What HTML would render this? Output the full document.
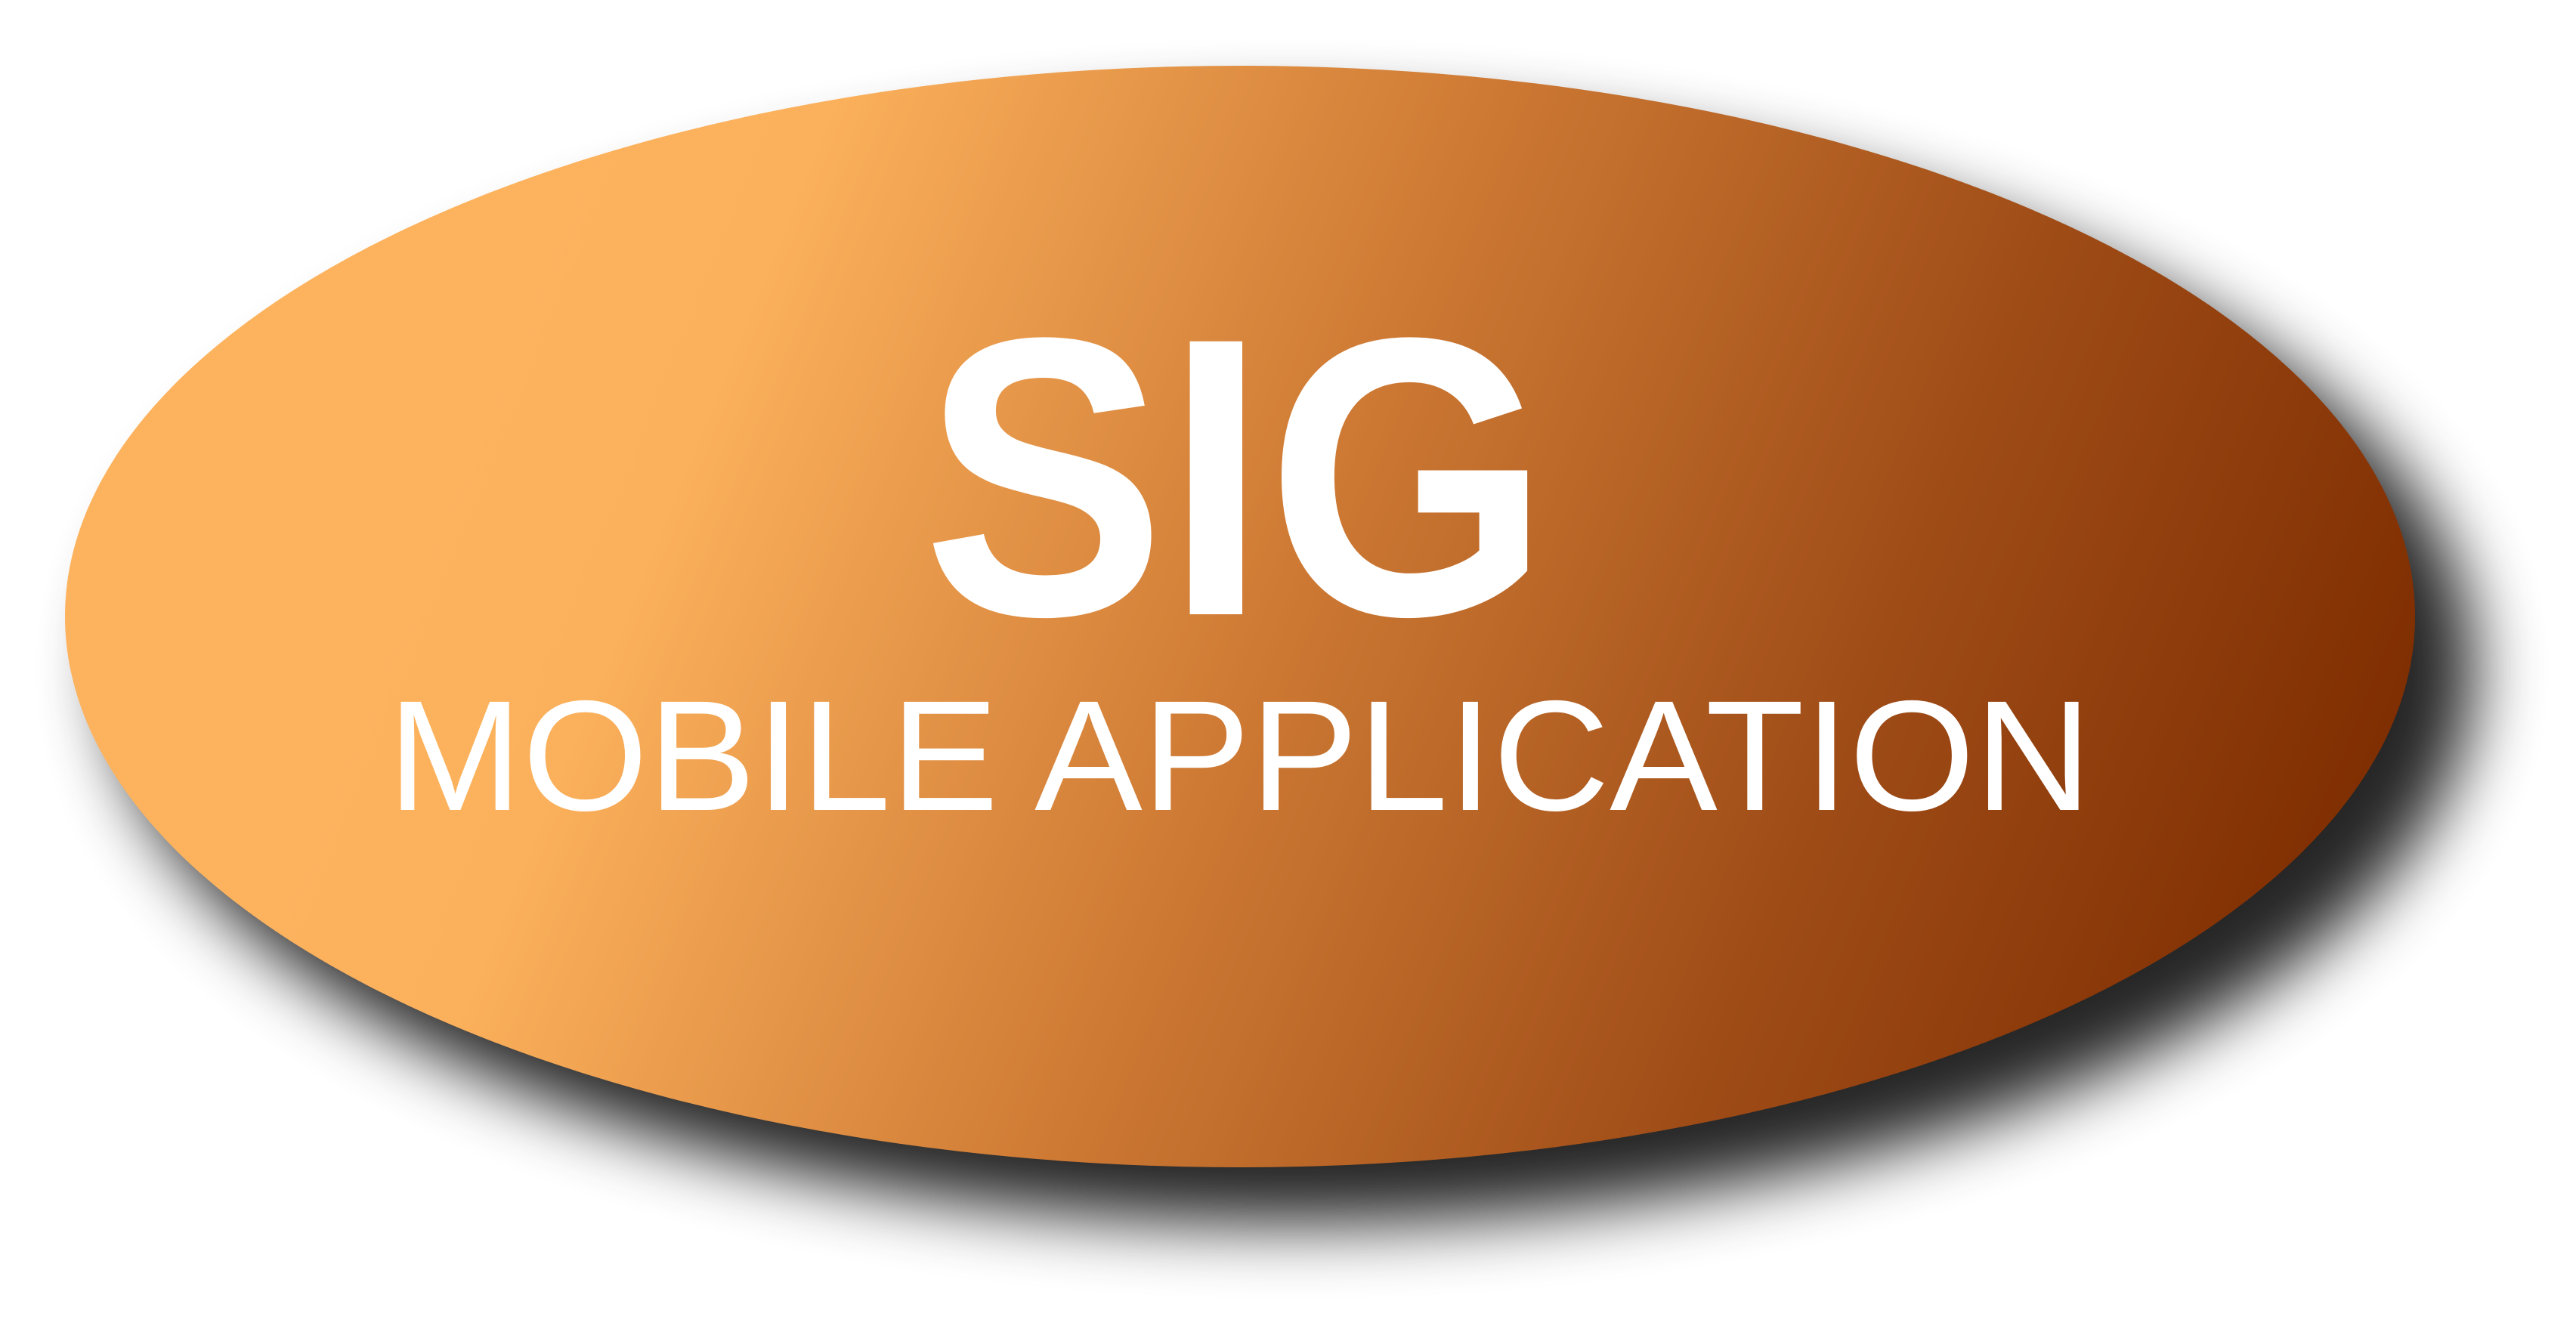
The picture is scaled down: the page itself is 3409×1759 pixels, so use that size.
<!DOCTYPE html>
<html>
<head>
<meta charset="utf-8">
<style>
  html, body { margin: 0; padding: 0; background: #ffffff; }
  svg { display: block; }
</style>
</head>
<body>
<svg width="3409" height="1759" viewBox="0 0 3409 1759" xmlns="http://www.w3.org/2000/svg">
  <defs>
    <filter id="blur" x="-20%" y="-20%" width="140%" height="140%">
      <feGaussianBlur stdDeviation="45"/>
    </filter>
    <linearGradient id="grad" gradientUnits="userSpaceOnUse" x1="650" y1="420" x2="3050" y2="1400">
      <stop offset="0" stop-color="#fdb35e"/>
      <stop offset="0.12" stop-color="#fbb05b"/>
      <stop offset="0.42" stop-color="#cf7b35"/>
      <stop offset="0.72" stop-color="#9f4c17"/>
      <stop offset="1" stop-color="#7d2c00"/>
    </linearGradient>
  </defs>
  <ellipse cx="1710" cy="885" rx="1565" ry="735" fill="#000" opacity="0.85" filter="url(#blur)"/>
  <ellipse cx="1641" cy="816" rx="1555" ry="729" fill="url(#grad)"/>
  <text x="1636" y="813" text-anchor="middle" font-family="Liberation Sans, Arial, sans-serif" font-weight="bold" font-size="525" fill="#ffffff" textLength="830" lengthAdjust="spacingAndGlyphs">SIG</text>
  <text x="513" y="1072" font-family="Liberation Sans, Arial, sans-serif" font-size="208" fill="#ffffff" textLength="2255" lengthAdjust="spacingAndGlyphs">MOBILE APPLICATION</text>
</svg>
</body>
</html>
